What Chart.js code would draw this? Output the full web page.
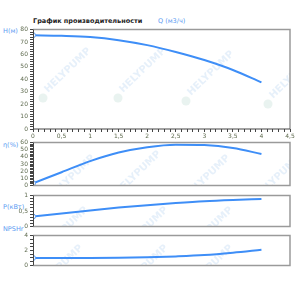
<!DOCTYPE html>
<html>
<head>
<meta charset="utf-8">
<script src="https://cdn.jsdelivr.net/npm/chart.js@4/dist/chart.umd.min.js"></script>
<style>
  body { margin: 0; background: #fff; width: 300px; height: 289px; position: relative; overflow: hidden; font-family: "DejaVu Sans", sans-serif; }
  canvas { position: absolute; left: 0; }
  .lbl { position: absolute; font-size: 6.5px; line-height: 8px; color: #5b9bf2; white-space: nowrap; }
  .title { color: #222; font-weight: bold; }
</style>
</head>
<body>
<div class="lbl title" style="left:33px;top:17px">График производительности</div>
<div class="lbl" style="left:158px;top:17px">Q (м3/ч)</div>
<div class="lbl" style="left:3px;top:27px">H(м)</div>
<div class="lbl" style="left:3px;top:141px">η(%)</div>
<div class="lbl" style="left:3px;top:203px">P(кВт)</div>
<div class="lbl" style="left:3px;top:225px">NPSHr</div>

<canvas id="cH" width="300" height="118" style="top:24px"></canvas>
<canvas id="cE" width="300" height="54" style="top:137px"></canvas>
<canvas id="cP" width="300" height="42" style="top:190px"></canvas>
<canvas id="cN" width="300" height="41" style="top:230px"></canvas>

<script>
// flow rate, m3/h
const flow = [0, 0.5, 1, 1.5, 2, 2.5, 3, 3.5, 4];
// head, m
const head = [75.5, 75, 74, 71.5, 67.5, 62, 55.5, 47.5, 37.5];
// efficiency, %
const efficiency = [3, 18.5, 34, 46, 53.5, 57, 56.5, 52.5, 44];
// power, kW
const power = [0.32, 0.42, 0.52, 0.61, 0.69, 0.76, 0.82, 0.86, 0.89];
// NPSHr, m
const npsh = [1, 1, 1, 1.02, 1.08, 1.2, 1.38, 1.7, 2.1];

const blue = '#3e8ef7';
const tickColor = '#5f6b4f';
const axisColor = '#444';
const frameColor = '#9a9a9a';

const comma = (v) => String(+v.toFixed(2)).replace('.', ',');
const isMult = (v, m) => Math.abs(v / m - Math.round(v / m)) < 1e-6;

// grey frame round the plot area, dark left axis
const framePlugin = {
  id: 'frame',
  afterDraw(chart, args, opts) {
    const { ctx, chartArea: a } = chart;
    ctx.save();
    ctx.strokeStyle = frameColor;
    ctx.lineWidth = 1.5;
    ctx.beginPath();
    ctx.moveTo(a.left, a.top);
    ctx.lineTo(a.right, a.top);
    ctx.lineTo(a.right, a.bottom);
    if (!opts.darkBottom) ctx.lineTo(a.left, a.bottom);
    ctx.stroke();
    ctx.strokeStyle = axisColor;
    ctx.lineWidth = 1;
    ctx.beginPath();
    ctx.moveTo(a.left + 0.5, a.top);
    ctx.lineTo(a.left + 0.5, a.bottom);
    if (opts.darkBottom) ctx.lineTo(a.right, a.bottom);
    ctx.stroke();
    ctx.restore();
  }
};

// faint HELYPUMP watermark
const watermarkPlugin = {
  id: 'watermark',
  beforeDatasetsDraw(chart, args, opts) {
    const { ctx, chartArea: a } = chart;
    const top = chart.canvas.offsetTop;
    ctx.save();
    ctx.beginPath();
    ctx.rect(a.left, a.top, a.right - a.left, a.bottom - a.top);
    ctx.clip();
    (opts.spots || []).forEach(([x, y]) => {
      const cy = y - top;
      ctx.save();
      ctx.fillStyle = 'rgba(228,240,236,0.8)';
      ctx.beginPath();
      ctx.arc(x - 5, cy + 5, 4.5, 0, Math.PI * 2);
      ctx.fill();
      ctx.translate(x, cy);
      ctx.rotate(-Math.PI / 4.1);
      ctx.fillStyle = 'rgba(214,230,246,0.6)';
      ctx.font = 'bold 10px "DejaVu Sans"';
      ctx.fillText('HELYPUMP', 0, 0);
      ctx.restore();
    });
    ctx.restore();
  }
};

const makeChart = (id, values, cfg) => {
  const ctx = document.getElementById(id).getContext('2d');
  return new Chart(ctx, {
    type: 'line',
    data: {
      datasets: [
        {
          data: flow.map((q, i) => ({ x: q, y: values[i] })),
          borderColor: blue,
          borderWidth: 2,
          tension: 0.4,
          cubicInterpolationMode: 'monotone',
          pointRadius: (c) => (c.dataIndex === 0 ? 2.5 : 0),
          pointBackgroundColor: '#fff',
          pointBorderColor: '#5b9bf2',
          pointBorderWidth: 1,
        },
      ],
    },
    options: {
      responsive: false,
      animation: false,
      devicePixelRatio: 1,
      layout: { padding: cfg.padding },
      plugins: {
        legend: { display: false },
        tooltip: { enabled: false },
        frame: { darkBottom: cfg.showX },
        watermark: { spots: cfg.spots },
      },
      scales: {
        x: {
          type: 'linear',
          min: 0,
          max: 4.5,
          display: cfg.showX,
          afterFit: (s) => { s.height = cfg.showX ? 13 : 0; },
          border: { display: false },
          grid: { drawOnChartArea: false, tickLength: 3, color: axisColor },
          ticks: {
            stepSize: 0.1,
            autoSkip: false,
            maxRotation: 0,
            padding: 1,
            color: tickColor,
            font: { family: 'DejaVu Sans', size: 6 },
            callback: (v) => (isMult(v, 0.5) ? comma(v) : ''),
          },
        },
        y: {
          min: cfg.min,
          max: cfg.max,
          afterFit: (s) => { s.width = 33; },
          border: { display: false },
          grid: { drawOnChartArea: false, tickLength: 3, color: axisColor },
          ticks: {
            stepSize: cfg.minor,
            autoSkip: false,
            padding: 2,
            color: tickColor,
            font: { family: 'DejaVu Sans', size: 6 },
            callback: (v) => (isMult(v, cfg.major) ? comma(v) : ''),
          },
        },
      },
    },
    plugins: [watermarkPlugin, framePlugin],
  });
};

makeChart('cH', head, {
  min: 0, max: 80, minor: 2, major: 10, showX: true,
  padding: { top: 5, right: 10, bottom: 0, left: 0 },
  spots: [[48, 93], [123, 93], [191, 96], [273, 99]],
});
makeChart('cE', efficiency, {
  min: 0, max: 60, minor: 2, major: 10, showX: false,
  padding: { top: 4, right: 10, bottom: 4, left: 0 },
  spots: [[52, 200], [118, 196], [187, 200], [258, 200]],
});
makeChart('cP', power, {
  min: 0, max: 1, minor: 0.1, major: 0.5, showX: false,
  padding: { top: 4, right: 10, bottom: 4, left: 0 },
  spots: [[45, 252], [125, 252], [190, 252]],
});
makeChart('cN', npsh, {
  min: 0, max: 4, minor: 0.5, major: 2, showX: false,
  padding: { top: 4, right: 10, bottom: 4, left: 0 },
  spots: [[40, 290], [125, 290], [190, 290]],
});
</script>
</body>
</html>
